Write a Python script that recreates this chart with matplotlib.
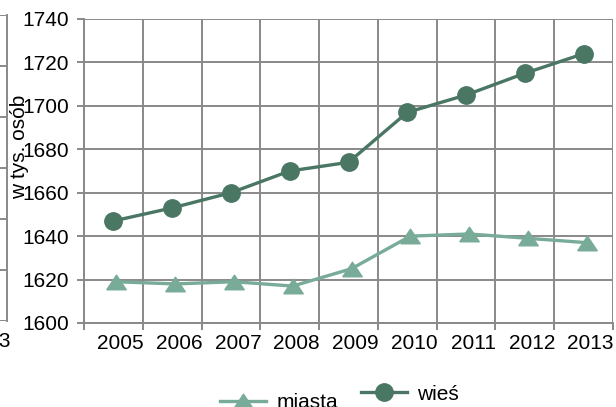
import numpy as np
import matplotlib
matplotlib.use("Agg")
import matplotlib.pyplot as plt
from matplotlib.transforms import ScaledTranslation

# Data
years  = ["2005", "2006", "2007", "2008", "2009", "2010", "2011", "2012", "2013"]
miasta = [1619, 1618, 1619, 1617, 1625, 1640, 1641, 1639, 1637]
wies   = [1647, 1653, 1660, 1670, 1674, 1697, 1705, 1715, 1724]

yTicks = [1600, 1620, 1640, 1660, 1680, 1700, 1720, 1740]

plt.rcParams['font.family'] = ['Liberation Sans', 'DejaVu Sans']

W, H = 616, 407
fs = 15
fig = plt.figure(figsize=(W/100, H/100), dpi=100)

gridCol = "#898989"
darkCol = "#4a7664"
lightCol = "#78ab98"

# Remnant of the neighbouring chart at the left edge
axL = fig.add_axes([-300/W, 1 - 321/H, 307/W, 306/H])
axL.set_xlim(0, 10)
axL.set_ylim(0, 6)
axL.set_yticks(range(7))
axL.set_yticklabels([])
axL.set_xticks([9.36])
axL.set_xticklabels(["2013"], fontsize=fs)
axL.tick_params(axis="x", length=0, pad=8)
axL.tick_params(axis="y", length=0)
axL.grid(axis="y", color=gridCol, lw=1.4)
for s in ["left", "top", "bottom"]:
    axL.spines[s].set_visible(False)
axL.spines["right"].set_color(gridCol)
axL.spines["right"].set_linewidth(1.4)

# Main chart
ax = fig.add_axes([84/W, 1 - 323/H, 529/W, 304/H])
x = np.arange(len(years))

triMarker = [(-1, -0.75), (1, -0.75), (0, 0.75), (-1, -0.75)]
shift = ax.transData + ScaledTranslation(3/100, 0, fig.dpi_scale_trans)

lineM, = ax.plot(x, miasta, color=lightCol, lw=2.4, marker=triMarker, markersize=14,
                 label="miasta", transform=shift, zorder=3)
lineW, = ax.plot(x, wies, color=darkCol, lw=2.4, marker="o", markersize=12.5,
                 label="wieś", zorder=4)

ax.set_xlim(-0.5, len(years) - 0.5)
ax.set_ylim(1600, 1740)
ax.set_yticks(yTicks)
ax.set_xticks(np.arange(len(years) + 1) - 0.5, minor=False)
ax.set_xticklabels([])
ax.set_xticks(x, minor=True)
ax.set_xticklabels(years, minor=True, fontsize=fs)
ax.tick_params(axis="x", which="major", length=5, width=1.4, color=gridCol)
ax.tick_params(axis="x", which="minor", length=0, pad=8)
ax.tick_params(axis="y", length=5, width=1.4, color=gridCol, labelsize=fs, pad=6)

for lab in ax.get_xticklabels(minor=True):
    lab.set_transform(lab.get_transform() + ScaledTranslation(7/100, 0, fig.dpi_scale_trans))

ax.grid(which="major", color=gridCol, lw=1.4)
ax.set_axisbelow(True)
for s in ax.spines.values():
    s.set_color(gridCol)
    s.set_linewidth(1.4)
ax.spines["right"].set_visible(False)
ax.spines["top"].set_visible(False)

fig.text(20/W, 1 - 147/H, "w tys. osób", rotation=90, ha="center", va="center",
         fontsize=fs)

# Two legend entries, slightly offset vertically as in the original
legKw = dict(loc="center left", bbox_transform=fig.transFigure, frameon=False,
             fontsize=fs, handlelength=2.2, handletextpad=0.5, borderpad=0,
             borderaxespad=0)
legM = fig.legend(handles=[lineM], bbox_to_anchor=(220/W, 1 - 403/H), **legKw)
legW = fig.legend(handles=[lineW], bbox_to_anchor=(361/W, 1 - 394/H), **legKw)

fig.savefig("out.png", dpi=100)
